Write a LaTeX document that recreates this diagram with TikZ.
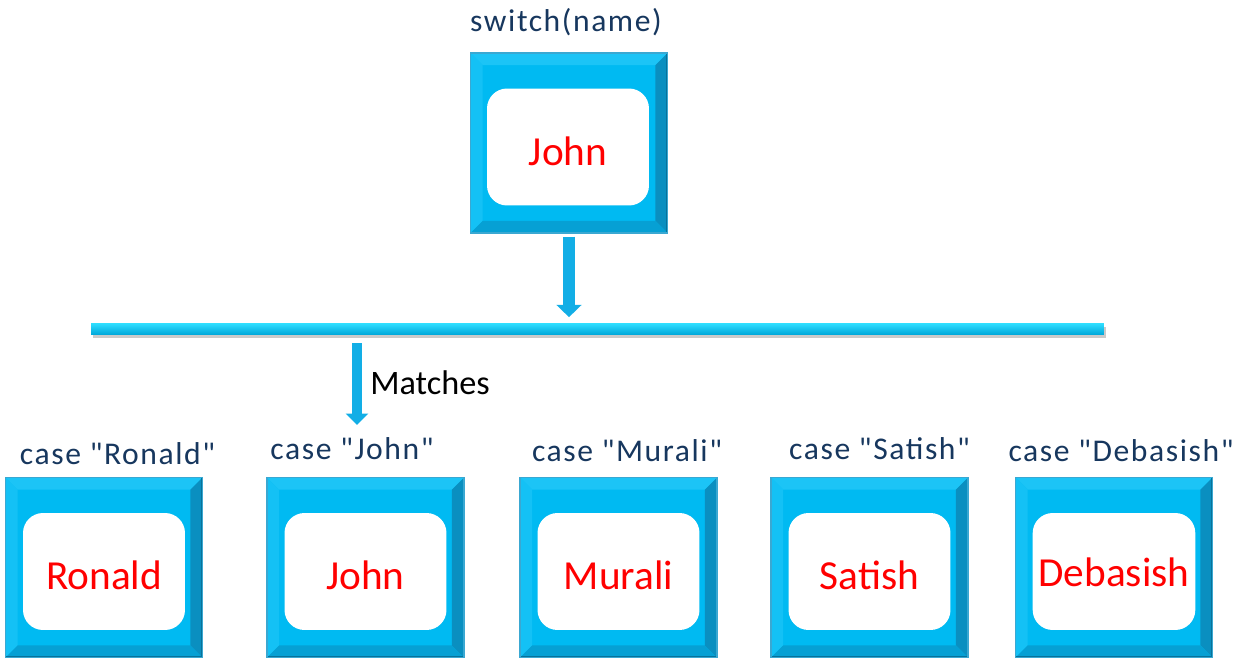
\documentclass[tikz,border=0pt]{standalone}
\usepackage{fontspec}
\setmainfont{Carlito}
\newfontfamily\espaciada[LetterSpace=5]{Carlito}
\usepackage{tikz}
\usetikzlibrary{arrows.meta, positioning, calc, shadows}
\definecolor{ciano}{HTML}{00BAF2}
\definecolor{cianoclaro}{HTML}{2EDDFF}
\definecolor{cianoluz}{HTML}{1CC4F6}
\definecolor{cianosombra}{HTML}{0A8FC0}
\definecolor{cianoborde}{HTML}{3AA8D2}
\definecolor{cianoflecha}{HTML}{12AEE6}
\definecolor{azuloscuro}{HTML}{17375E}
\definecolor{rojo}{HTML}{FF0000}
\tikzset{
  marco/.style={rectangle, draw=cianoborde, line width=0.6pt, fill=ciano,
    minimum width=3.94cm, minimum height=3.6cm, inner sep=0pt,
    path picture={
      \coordinate (no) at (path picture bounding box.north west);
      \coordinate (ne) at (path picture bounding box.north east);
      \coordinate (se) at (path picture bounding box.south east);
      \coordinate (so) at (path picture bounding box.south west);
      \fill[cianoluz] (no) -- (ne) -- ($(ne)+(-12,12)$) -- ($(no)+(12,12)$) -- cycle;
      \fill[cianoluz!70!ciano] (no) -- ($(no)+(12,12)$) -- ($(so)+(12,-12)$) -- (so) -- cycle;
      \fill[cianosombra] (ne) -- (se) -- ($(se)+(-12,-12)$) -- ($(ne)+(-12,12)$) -- cycle;
      \fill[cianosombra!60!ciano] (so) -- (se) -- ($(se)+(-12,-12)$) -- ($(so)+(12,-12)$) -- cycle;
      \draw[cianosombra!80!black, line width=1.2pt] (ne) -- (se) -- (so);
    }},
  ventana/.style={rectangle, rounded corners=0.4cm, fill=white,
    minimum width=3.24cm, minimum height=2.34cm, text=rojo,
    text height=21pt, text depth=0pt,
    font=\fontsize{23.5}{28}\selectfont},
  etiqueta/.style={text=azuloscuro, font=\espaciada\fontsize{18}{21}\selectfont,
    inner sep=0pt, text depth=0pt},
  barra/.style={rectangle, draw=none, top color=cianoclaro, bottom color=ciano!90!black,
    minimum width=20.26cm, minimum height=0.22cm, inner sep=0pt,
    drop shadow={shadow xshift=1pt, shadow yshift=-2pt, opacity=0.35, fill=black!60}},
  flecha/.style={-{Triangle[length=7pt, width=14pt]}, line width=7pt, cianoflecha}
}

\begin{document}
\begin{tikzpicture}[x=0.02cm, y=-0.02cm]
  \useasboundingbox (0,0) rectangle (1238,666);

  % --- switch ---
  \node[marco] (switchbox) at (569,143) {};
  \node[ventana] (switchtxt) at ($(switchbox)+(-1,4)$) {John};
  \node[etiqueta, above=0.42cm of switchbox, xshift=-0.06cm] (switchlbl) {switch(name)};

  % --- barra ---
  \node[barra] (bar) at (597.5,329) {};

  % --- casos ---
  \node[marco] (caseronald) at (104,567.5) {};
  \node[ventana] (ronaldtxt) at ($(caseronald)+(0,4)$) {Ronald};
  \node[etiqueta, above=0.24cm of caseronald, xshift=0.27cm] (ronaldlbl) {case "Ronald"};

  \node[marco] (casejohn) at (365.5,567.5) {};
  \node[ventana] (johntxt) at ($(casejohn)+(0,4)$) {John};
  \node[etiqueta, above=0.34cm of casejohn, xshift=-0.27cm] (johnlbl) {case "John"};

  \node[marco] (casemurali) at (618.5,567.5) {};
  \node[ventana] (muralitxt) at ($(casemurali)+(0,4)$) {Murali};
  \node[etiqueta, above=0.3cm of casemurali, xshift=0.17cm] (muralilbl) {case "Murali"};

  \node[marco] (casesatish) at (869.5,567.5) {};
  \node[ventana] (satishtxt) at ($(casesatish)+(0,4)$) {Satish};
  \node[etiqueta, above=0.34cm of casesatish, xshift=0.2cm] (satishlbl) {case "Satish"};

  \node[marco] (casedebasish) at (1114,567.5) {};
  \node[ventana, text height=17pt] (debasishtxt) at ($(casedebasish)+(0,4)$) {Debasish};
  \node[etiqueta, above=0.3cm of casedebasish, xshift=0.14cm] (debasishlbl) {case "Debasish"};

  % --- flechas ---
  \draw[flecha, shorten <=0.06cm, shorten >=0.12cm]
    (switchbox.south) -- (switchbox.south |- bar.north);
  \coordinate (matchtip) at (357,425);
  \draw[flecha, line width=6pt, -{Triangle[length=6.5pt, width=12.5pt]}, shorten <=0.17cm]
    (bar.south -| matchtip) -- (matchtip);
  \node[anchor=west, font=\fontsize{19.5}{23}\selectfont, inner sep=0pt]
    (matches) at (370,383) {Matches};

\end{tikzpicture}
\end{document}
